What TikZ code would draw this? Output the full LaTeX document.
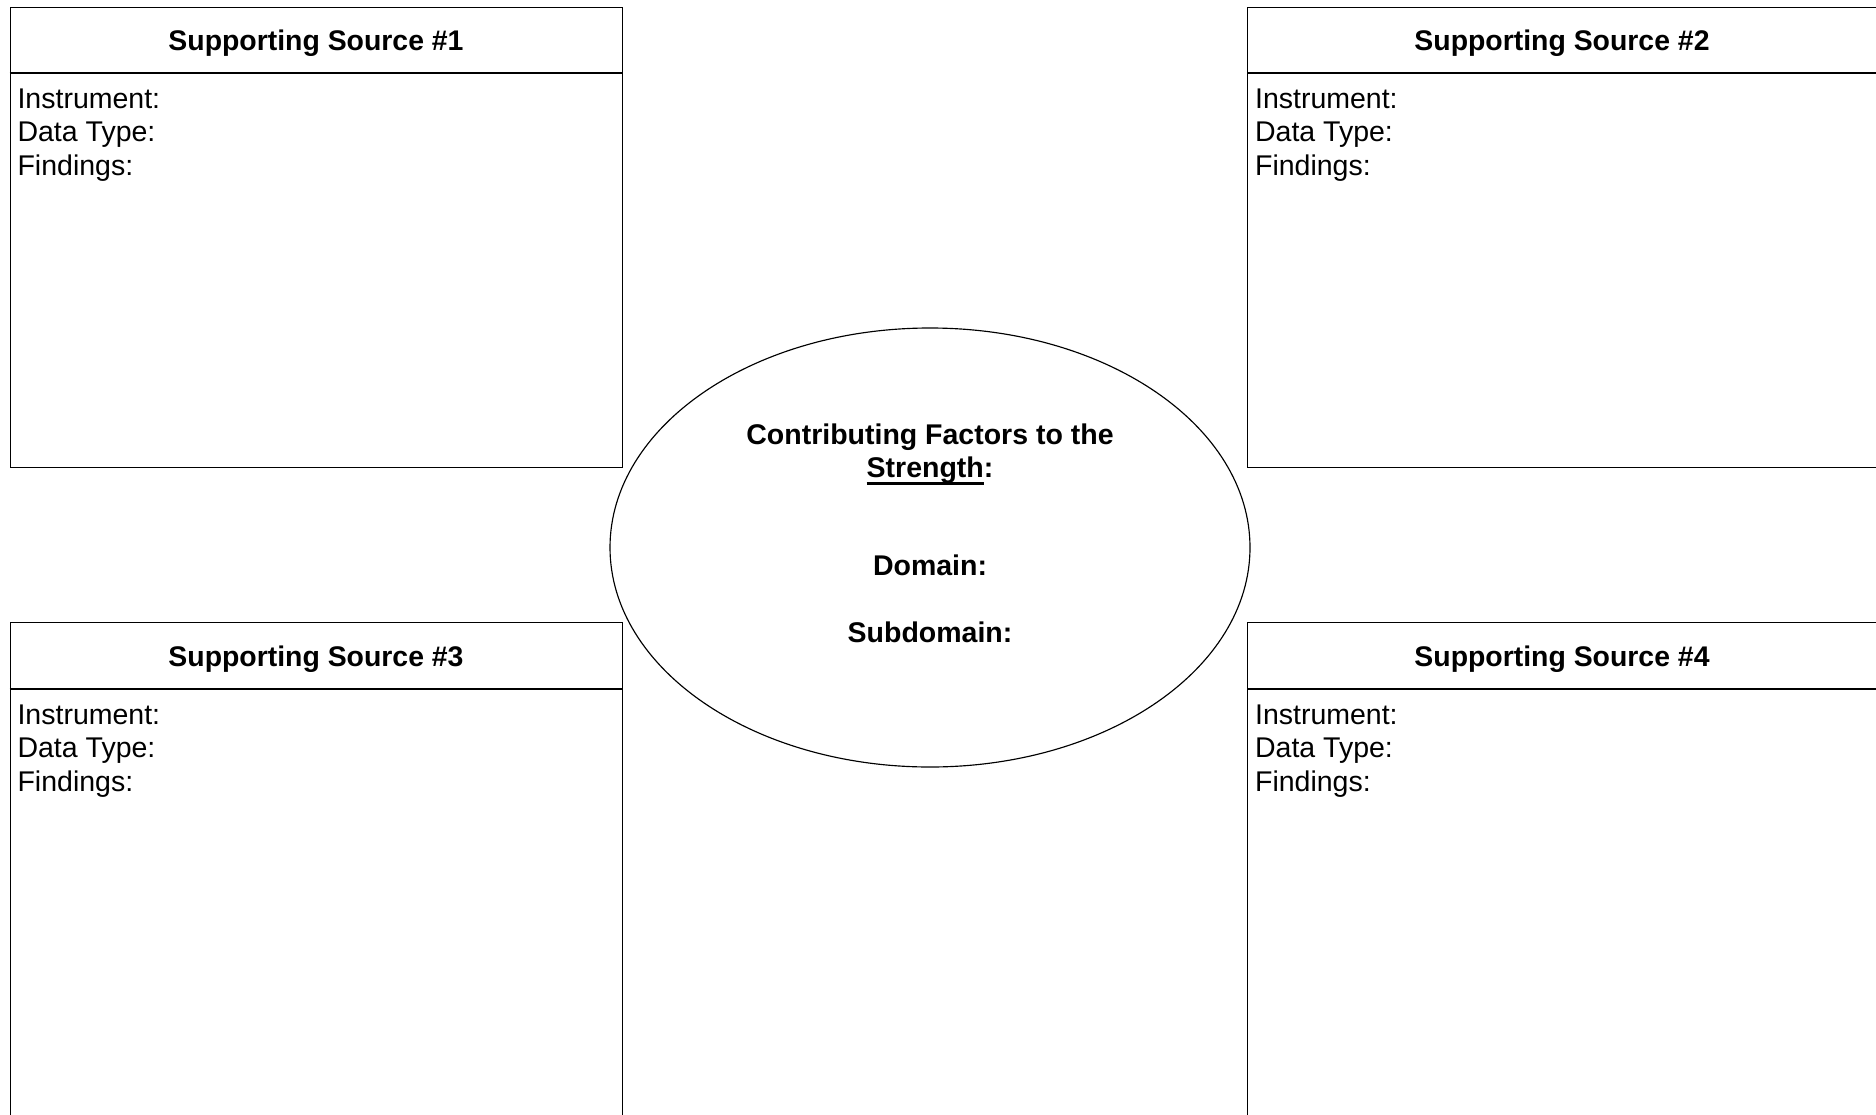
\documentclass[tikz,border=0pt]{standalone}
\usepackage{fontspec}
\setmainfont{Liberation Sans}
\usetikzlibrary{shapes.geometric}
\newcommand\myuline[1]{\setbox0\hbox{#1}\rlap{\rule[-7.6pt]{\wd0}{2.4pt}}\box0}
\begin{document}
\begin{tikzpicture}[x=1pt,y=-1pt, line width=1.15pt,
  srcbox/.style={draw, rectangle, anchor=north west, minimum width=#1, minimum height=620pt, inner sep=0pt},
  srctitle/.style={anchor=base, inner sep=0pt, font=\fontsize{28.4}{33}\selectfont\bfseries},
  srcbody/.style={anchor=base west, inner sep=0pt, font=\fontsize{28.5}{33.5}\selectfont},
  ctext/.style={anchor=base, inner sep=0pt, font=\fontsize{28.5}{33}\selectfont\bfseries}]
\useasboundingbox (0,0) rectangle (1876,1114);
\clip (0,0) rectangle (1876,1114);
% boxes
\node[srcbox=612.4pt, minimum height=460pt] (s1) at (9.6,7) {};
\node[srcbox=640pt, minimum height=460pt] (s2) at (1247,7) {};
\node[srcbox=612.4pt] (s3) at (9.6,622) {};
\node[srcbox=640pt] (s4) at (1247,622) {};
% header lines
\coordinate (h1a) at (9.6,73); \coordinate (h1b) at (622,73);
\coordinate (h2a) at (1247,73); \coordinate (h2b) at (1887,73);
\coordinate (h3a) at (9.6,689); \coordinate (h3b) at (622,689);
\coordinate (h4a) at (1247,689); \coordinate (h4b) at (1887,689);
\draw (h1a) -- (h1b);
\draw (h2a) -- (h2b);
\draw (h3a) -- (h3b);
\draw (h4a) -- (h4b);
% titles
\node[srctitle] (t1) at (316,50) {Supporting Source \#1};
\node[srctitle] (t2) at (1562,50) {Supporting Source \#2};
\node[srctitle] (t3) at (316,666) {Supporting Source \#3};
\node[srctitle] (t4) at (1562,666) {Supporting Source \#4};
% bodies
\foreach \n/\x/\y in {1/17/0, 2/1254.5/0, 3/17/616, 4/1254.5/616}{
  \node[srcbody] (i\n) at (\x,108+\y) {Instrument:};
  \node[srcbody] (d\n) at (\x,141.5+\y) {Data Type:};
  \node[srcbody] (f\n) at (\x,175+\y) {Findings:};
}
% central ellipse
\node[draw, ellipse, minimum width=640pt, minimum height=439pt, inner sep=0pt] (core) at (930,547.5) {};
\node[ctext] (c1) at (930,444) {Contributing Factors to the};
\node[ctext] (c2) at (930,477) {\myuline{Strength}:};
\node[ctext] (c3) at (930,575) {Domain:};
\node[ctext] (c4) at (930,642) {Subdomain:};
\end{tikzpicture}
\end{document}
